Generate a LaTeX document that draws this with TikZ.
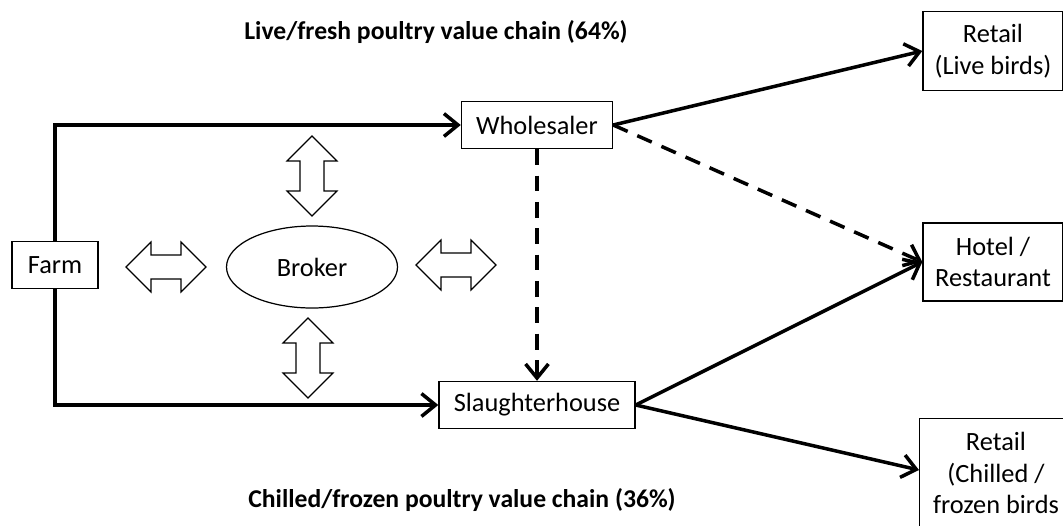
\documentclass[tikz,border=0pt]{standalone}
\usepackage{fontspec}
\setmainfont{Carlito}
\usepackage{tikz}
\usetikzlibrary{arrows.meta, positioning, shapes.geometric}

\tikzset{
    box/.style={draw, line width=0.8pt, align=center, inner sep=0pt},
    flow/.style={line width=2pt, -{Straight Barb[length=8pt, width=13pt, line width=2pt]}},
    dashflow/.style={flow, dash pattern=on 9pt off 6pt},
    dblarrow/.pic={
        \draw[line width=0.7pt, fill=white] (-40,0) -- (-15,-25) -- (-15,-12) -- (15,-12) -- (15,-25)
            -- (40,0) -- (15,25) -- (15,12) -- (-15,12) -- (-15,25) -- cycle;
    }
}

\begin{document}
\begin{tikzpicture}[x=0.02cm, y=-0.02cm, font=\fontsize{15}{18}\selectfont]
            \useasboundingbox (0,0) rectangle (1063,525);
            \begin{scope}
                \clip (0,0) rectangle (1063,525);

                % titles
                \node[font=\fontsize{14.6}{18}\selectfont\bfseries] (toptitle) at (436,32) {Live/fresh poultry value chain (64\%)};
                \node[font=\fontsize{14.6}{18}\selectfont\bfseries] (bottitle) at (462,500) {Chilled/frozen poultry value chain (36\%)};

                % nodes
                \node[box, minimum width=86*0.02cm, minimum height=47*0.02cm] (farm) at (55,265) {Farm};
                \node[draw, line width=0.7pt, ellipse, minimum width=171*0.02cm, minimum height=82*0.02cm] (broker) at (312,267) {Broker};
                \node[box, minimum width=151*0.02cm, minimum height=47*0.02cm] (whole) at (537,125) {Wholesaler};
                \node[box, minimum width=196*0.02cm, minimum height=47*0.02cm] (slaughter) at (537,405) {Slaughterhouse};
                \node[box, minimum width=140*0.02cm, minimum height=79*0.02cm] (retlive) at (993,51) {Retail\\(Live birds)};
                \node[box, minimum width=140*0.02cm, minimum height=78*0.02cm] (hotel) at (993,262) {Hotel /\\Restaurant};
                \node[box, anchor=north west, minimum width=156*0.02cm, minimum height=120*0.02cm] (retchill) at (919,418) {};
                \node[align=center, anchor=north] (retchilltxt) at (996,426) {Retail\\(Chilled /\\frozen birds};

                % broker links
                \pic at (166,267) {dblarrow};
                \pic at (456,265) {dblarrow};
                \pic[rotate=90] at (312,176) {dblarrow};
                \pic[rotate=90] at (308,358) {dblarrow};

                % flows
                \draw[flow] (farm.north) |- (whole.west);
                \draw[flow] (farm.south) |- (slaughter.west);
                \draw[flow] (whole.east) -- (retlive.west);
                \draw[dashflow] (whole.east) -- (hotel.west);
                \draw[dashflow] (whole.south) -- (slaughter.north);
                \draw[flow] (slaughter.east) -- (hotel.west);
                \draw[flow] (slaughter.east) -- (retchill.west |- 0,470);
            \end{scope}
        \end{tikzpicture}
\end{document}
